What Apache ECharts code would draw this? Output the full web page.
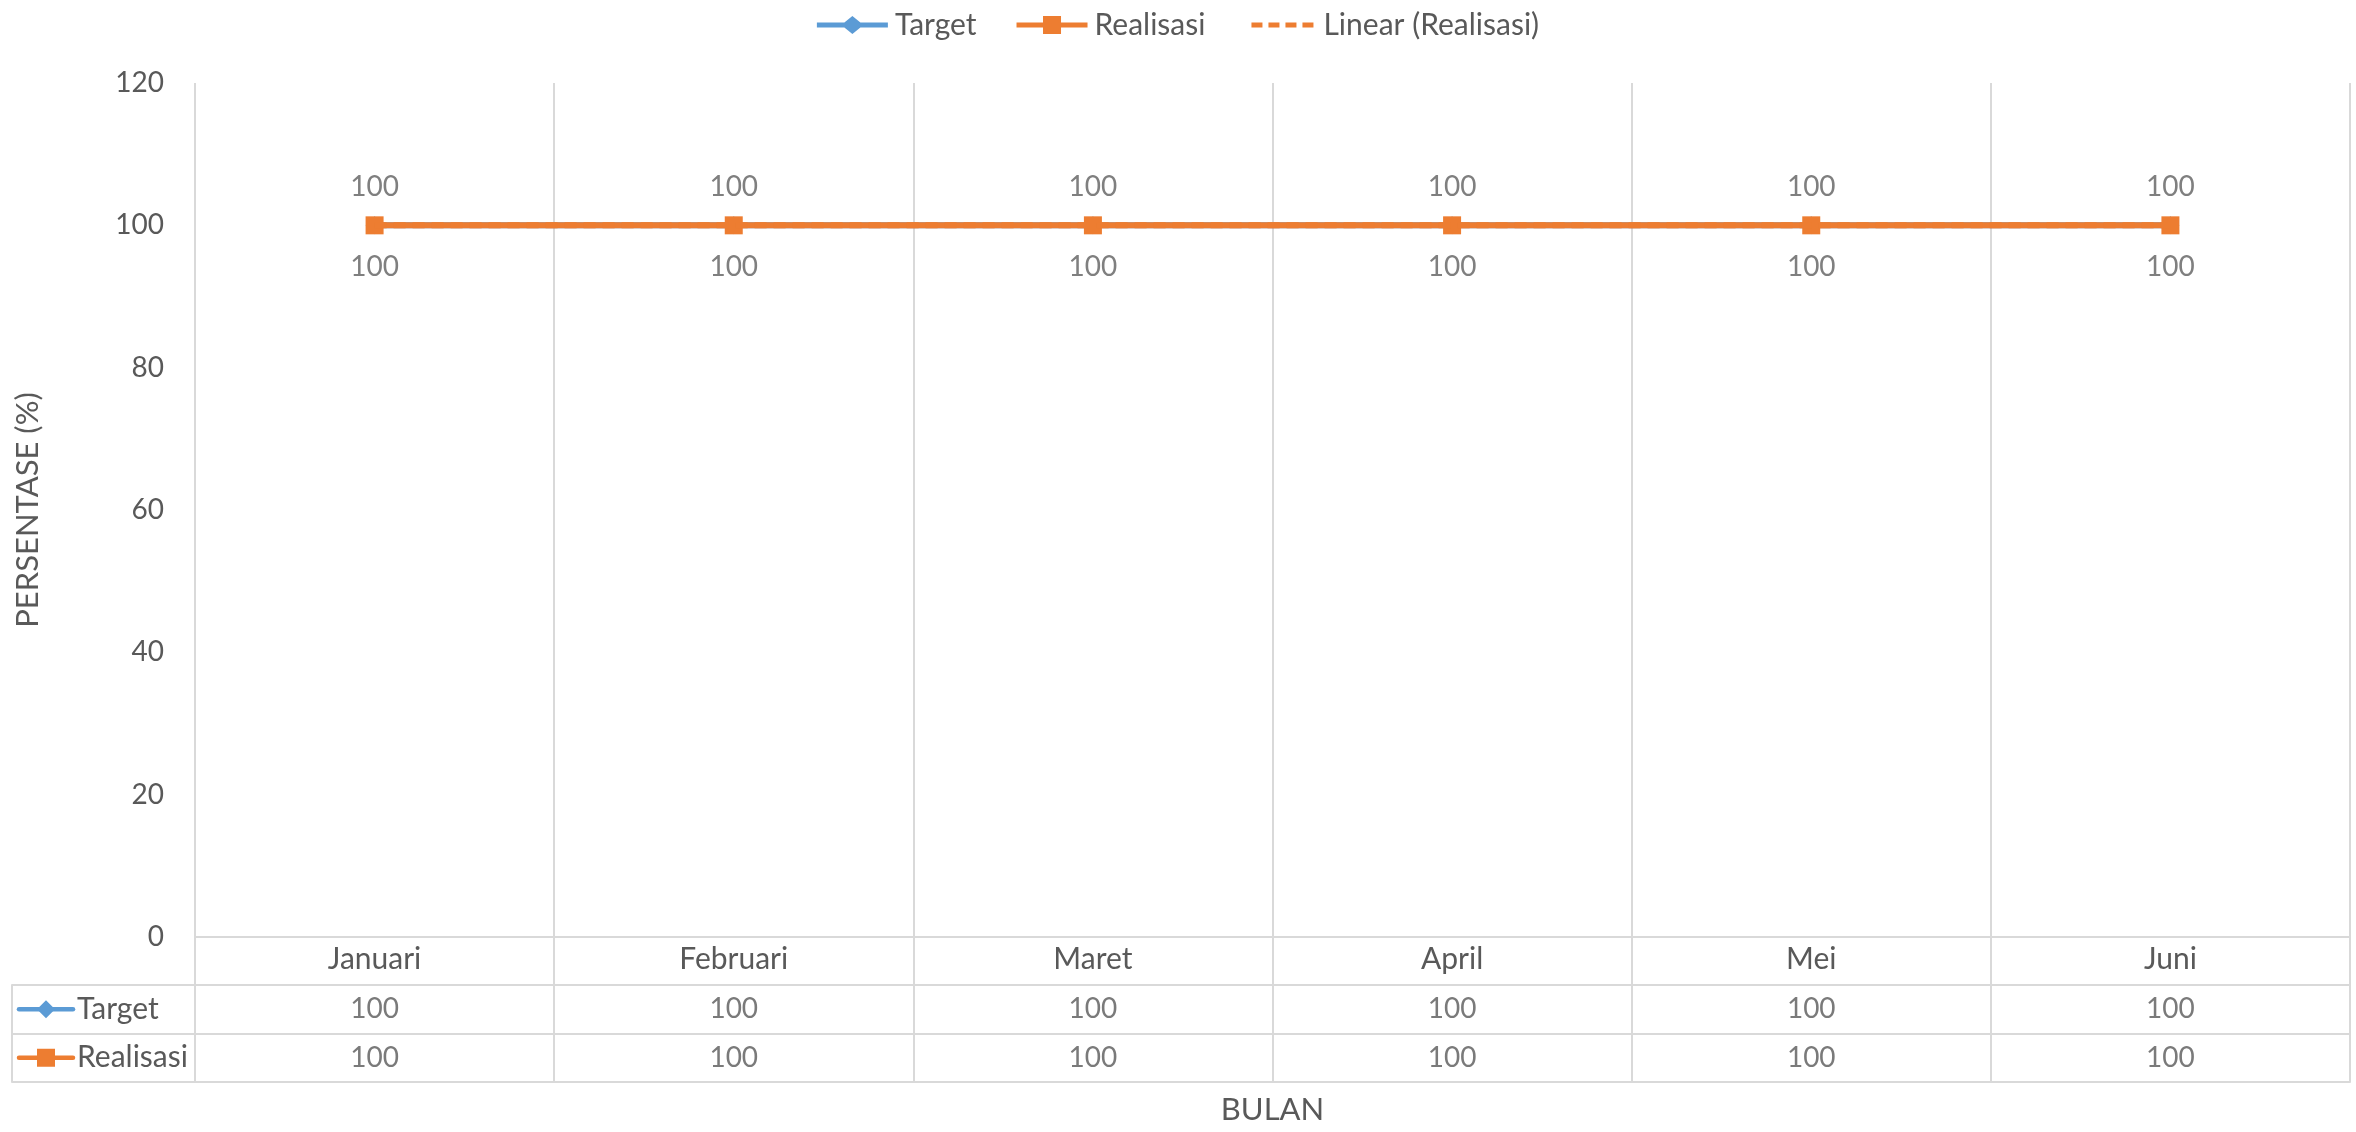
<!DOCTYPE html>
<html>
<head>
<meta charset="utf-8">
<script src="https://cdn.jsdelivr.net/npm/echarts@6/dist/echarts.min.js"></script>
<style>
html,body{margin:0;padding:0;background:#fff;}
#c{width:2356px;height:1132px;}
</style>
</head>
<body>
<div id="c"></div>
<script>
// ---- data ----
const months = ['Januari', 'Februari', 'Maret', 'April', 'Mei', 'Juni'];
const target = [100, 100, 100, 100, 100, 100];
const realisasi = [100, 100, 100, 100, 100, 100];
const seriesNames = ['Target', 'Realisasi', 'Linear (Realisasi)'];
const tableRows = ['Target', 'Realisasi'];
const yMin = 0, yMax = 120, yStep = 20;

// linear trendline of Realisasi (least squares over month index)
function linearTrend(vals) {
  const n = vals.length;
  let sx = 0, sy = 0, sxx = 0, sxy = 0;
  vals.forEach((v, i) => { sx += i; sy += v; sxx += i * i; sxy += i * v; });
  const b = (n * sxy - sx * sy) / (n * sxx - sx * sx);
  const a = (sy - b * sx) / n;
  return vals.map((_, i) => a + b * i);
}
const trend = linearTrend(realisasi);

const FONT = 'Lato';
const GRID = '#d9d9d9';
const TXT = '#595959';
const BLUE = '#5B9BD5';
const ORANGE = '#ED7D31';

// legend key shapes (line + marker), in a 71 x 18 box
const ICON_DIAMOND = 'path://M0,6.5L27.5,6.5L35.5,0L43.5,6.5L71,6.5L71,11.5L43.5,11.5L35.5,18L27.5,11.5L0,11.5Z';
const ICON_SQUARE = 'path://M0,6.5L26.5,6.5L26.5,0L44.5,0L44.5,6.5L71,6.5L71,11.5L44.5,11.5L44.5,18L26.5,18L26.5,11.5L0,11.5Z';
const ICON_DASH = 'path://M0,0L0.01,0L0.01,0.01Z M71,18L70.99,18L70.99,17.99Z ' +
  'M6,6.5L17,6.5L17,11.5L6,11.5Z M23,6.5L34,6.5L34,11.5L23,11.5Z M40,6.5L51,6.5L51,11.5L40,11.5Z M57,6.5L68,6.5L68,11.5L57,11.5Z';

const tableCells = [];
tableRows.forEach((r) => {
  const src = r === 'Target' ? target : realisasi;
  src.forEach((v, i) => tableCells.push([months[i], r, v]));
});

const chart = echarts.init(document.getElementById('c'), null, {renderer: 'canvas'});
chart.setOption({
  backgroundColor: '#ffffff',
  animation: false,
  textStyle: {fontFamily: FONT},
  legend: {
    top: 5,
    left: 'center',
    itemWidth: 71,
    itemHeight: 18,
    itemGap: 40,
    data: [
      {name: seriesNames[0], icon: ICON_DIAMOND, itemStyle: {color: BLUE}},
      {name: seriesNames[1], icon: ICON_SQUARE, itemStyle: {color: ORANGE}},
      {name: seriesNames[2], icon: ICON_DASH, itemStyle: {color: ORANGE}}
    ],
    textStyle: {fontFamily: FONT, fontSize: 30, color: TXT, padding: [0, 0, 0, 2]}
  },
  grid: [
    {left: 195, right: 6, top: 83, bottom: 1132 - 937},
    {left: 195, right: 6, top: 985, bottom: 1132 - 1082}
  ],
  xAxis: [
    {
      gridIndex: 0, type: 'category', data: months, boundaryGap: true,
      axisLine: {show: true, lineStyle: {color: GRID, width: 2}},
      axisTick: {show: true, length: 48, interval: 0, lineStyle: {color: GRID, width: 2}},
      splitLine: {show: true, interval: 0, lineStyle: {color: GRID, width: 2}},
      axisLabel: {margin: 7, fontSize: 30, color: TXT, fontFamily: FONT, interval: 0},
      name: 'BULAN', nameLocation: 'middle', nameGap: 157,
      nameTextStyle: {fontSize: 31, color: TXT, fontFamily: FONT}
    },
    {
      gridIndex: 1, type: 'category', data: months, boundaryGap: true,
      axisLine: {show: true, lineStyle: {color: GRID, width: 2}},
      axisTick: {show: false},
      axisLabel: {show: false},
      splitLine: {show: true, interval: 0, lineStyle: {color: GRID, width: 2}}
    }
  ],
  yAxis: [
    {
      gridIndex: 0, type: 'value', min: yMin, max: yMax, interval: yStep,
      axisLine: {show: false}, axisTick: {show: false}, splitLine: {show: false},
      axisLabel: {margin: 31, fontSize: 28, color: TXT, fontFamily: FONT},
      name: 'PERSENTASE (%)', nameLocation: 'middle', nameGap: 152, nameRotate: 90,
      nameTextStyle: {fontSize: 31, color: TXT, fontFamily: FONT}
    },
    {
      gridIndex: 1, type: 'category', data: tableRows, inverse: true, boundaryGap: true,
      axisLine: {show: true, lineStyle: {color: GRID, width: 2}},
      axisTick: {show: true, length: 183, interval: 0, lineStyle: {color: GRID, width: 2}},
      splitLine: {show: true, interval: 0, lineStyle: {color: GRID, width: 2}},
      axisLabel: {margin: 118, align: 'left', fontSize: 30, color: TXT, fontFamily: FONT}
    },
    {
      gridIndex: 1, type: 'category', data: tableRows, inverse: true, position: 'left', offset: 183,
      axisLine: {show: true, lineStyle: {color: GRID, width: 2}},
      axisTick: {show: false}, axisLabel: {show: false}, splitLine: {show: false}
    }
  ],
  series: [
    {
      name: 'Target', type: 'line', xAxisIndex: 0, yAxisIndex: 0, data: target,
      symbol: 'diamond', symbolSize: 18,
      lineStyle: {color: BLUE, width: 6}, itemStyle: {color: BLUE},
      label: {show: true, position: 'top', distance: 15, fontSize: 28, color: '#7f7f7f', fontFamily: FONT},
      z: 2
    },
    {
      name: 'Realisasi', type: 'line', xAxisIndex: 0, yAxisIndex: 0, data: realisasi,
      symbol: 'rect', symbolSize: 18,
      lineStyle: {color: ORANGE, width: 6}, itemStyle: {color: ORANGE},
      label: {show: true, position: 'bottom', distance: 19, fontSize: 28, color: '#7f7f7f', fontFamily: FONT},
      z: 3
    },
    {
      name: 'Linear (Realisasi)', type: 'line', xAxisIndex: 0, yAxisIndex: 0, data: trend,
      symbol: 'none', silent: true,
      lineStyle: {color: ORANGE, width: 6, type: [12, 7]}, itemStyle: {color: ORANGE},
      z: 4
    },
    {
      name: 'tabel', type: 'scatter', xAxisIndex: 1, yAxisIndex: 1, data: tableCells,
      symbolSize: 0, silent: true, legendHoverLink: false,
      label: {show: true, position: 'inside', formatter: (p) => String(p.value[2]),
              fontSize: 28, color: TXT, fontFamily: FONT}
    }
  ]
});

// legend keys in the data-table row headers
const gfx = [];
tableRows.forEach((r, i) => {
  const y = chart.convertToPixel({yAxisIndex: 1}, r);
  const color = i === 0 ? BLUE : ORANGE;
  gfx.push({type: 'line', shape: {x1: 19, y1: y, x2: 73, y2: y}, style: {stroke: color, lineWidth: 4.5, lineCap: 'round'}});
  if (i === 0) {
    gfx.push({type: 'polygon', shape: {points: [[46, y - 9], [55, y], [46, y + 9], [37, y]]}, style: {fill: color}});
  } else {
    gfx.push({type: 'rect', shape: {x: 37, y: y - 9, width: 18, height: 18}, style: {fill: color}});
  }
});
chart.setOption({graphic: gfx});
</script>
</body>
</html>
